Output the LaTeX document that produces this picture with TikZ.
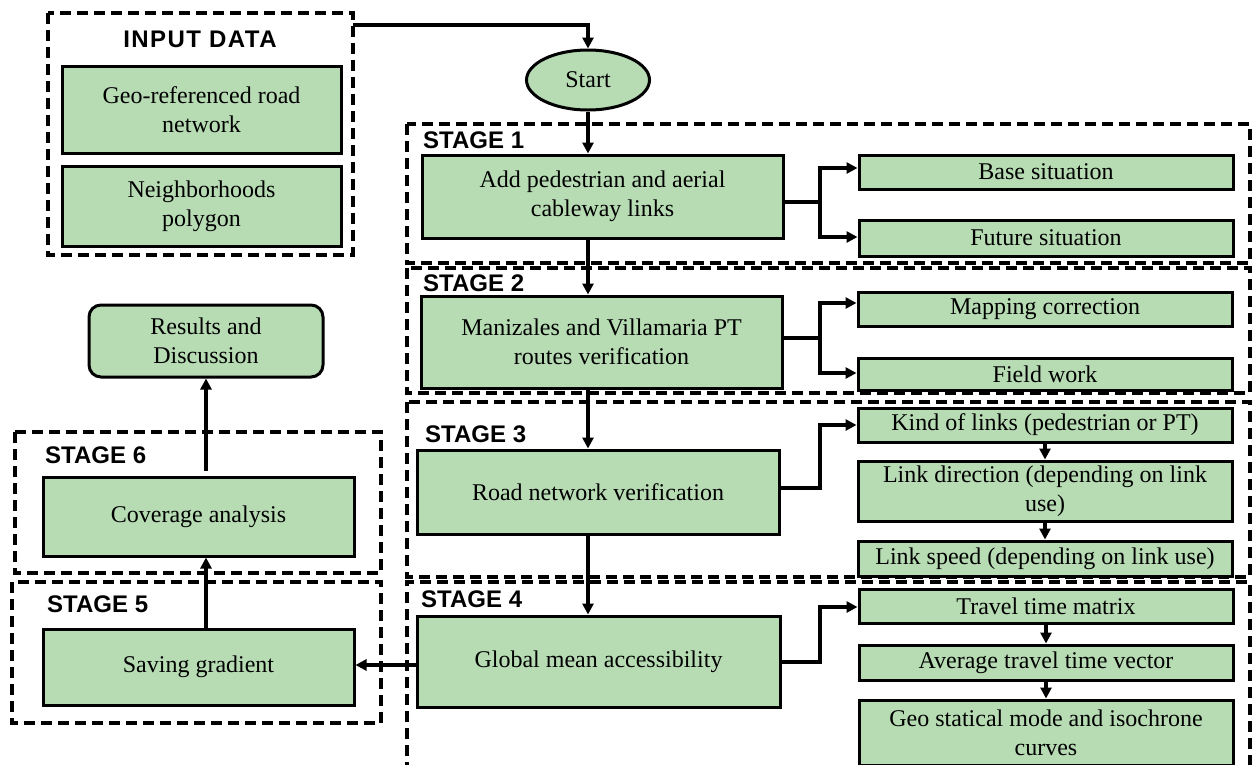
\documentclass[tikz,border=0pt]{standalone}
\usepackage{fontspec}
\setmainfont{Liberation Serif}
\setsansfont{Liberation Sans}
\newfontfamily\spacedsans[LetterSpace=6]{Liberation Sans}
\usepackage{xcolor}
\usepackage{tikz}
\usetikzlibrary{shapes.geometric, arrows.meta, positioning, calc}
\definecolor{stepgreen}{RGB}{183,220,180}

\begin{document}
\begin{tikzpicture}[
  x=1pt, y=-1pt,
  node distance=16pt and 20pt,
  box/.style={draw=black, fill=stepgreen, line width=3pt,
              inner sep=2pt, align=center,
              font=\fontsize{24}{29}\selectfont},
  subbox/.style={box, minimum width=374pt, minimum height=34pt},
  result/.style={box, rounded corners=12pt},
  stagebox/.style={draw=black, line width=3.2pt, dash pattern=on 11pt off 6pt},
  stagelabel/.style={anchor=base west, inner sep=0pt,
                     font=\sffamily\bfseries\fontsize{24}{28}\selectfont},
  arrow/.style={-{Triangle[length=11pt,width=11pt]}, line width=3.2pt},
]
\useasboundingbox (0,0) rectangle (1252,764);

%% Dashed stage frames
\draw[stagebox] (48,13)  rectangle (353,255);
\draw[stagebox] (407,124) rectangle (1250,263);
\draw[stagebox] (407,268) rectangle (1250,393);
\draw[stagebox] (407,402) rectangle (1250,577);
\draw[stagebox] (407,790) -- (407,582) -- (1250,582) -- (1250,790);
\draw[stagebox] (15,432) rectangle (381,573);
\draw[stagebox] (12,582) rectangle (381,723);
\coordinate (inpout) at (353,25);

\node[stagelabel, anchor=base, font=\spacedsans\bfseries\fontsize{24}{28}\selectfont]
  (lin) at (200,47) {INPUT DATA};
\node[stagelabel] (l1) at (423,148) {STAGE 1};
\node[stagelabel] (l2) at (423,291) {STAGE 2};
\node[stagelabel] (l3) at (425,442) {STAGE 3};
\node[stagelabel] (l4) at (421,607) {STAGE 4};
\node[stagelabel] (l5) at (47,612)  {STAGE 5};
\node[stagelabel] (l6) at (45,463)  {STAGE 6};

%% Input data
\node[box, minimum width=279pt, minimum height=87pt] (road) at (201.5,109.5)
  {Geo-referenced road\\network};
\node[box, minimum width=279pt, minimum height=80pt, below=10pt of road] (hood)
  {Neighborhoods\\polygon};

%% Main column
\node[box, ellipse, minimum width=123pt, minimum height=60pt, inner sep=0pt]
  (start) at (588,80) {Start};
\node[box, minimum width=361pt, minimum height=83pt] (s1) at (602.5,196.5)
  {Add pedestrian and aerial\\cableway links};
\node[box, minimum width=361pt, minimum height=92pt] (s2) at (601.5,342)
  {Manizales and Villamaria PT\\routes verification};
\node[box, minimum width=362pt, minimum height=84pt] (s3) at (598,492)
  {Road network verification};
\node[box, minimum width=363pt, minimum height=91pt] (s4) at (598.5,661.5)
  {Global mean accessibility};

%% Sub-steps on the right
\node[subbox] (base)   at (1046,172) {Base situation};
\node[subbox, minimum height=36pt, below=28pt of base] (future) {Future situation};
\node[subbox] (mapfix) at (1045,309) {Mapping correction};
\node[subbox, minimum height=32pt, below=29pt of mapfix] (field) {Field work};
\node[subbox] (kind)   at (1045,425) {Kind of links (pedestrian or PT)};
\node[subbox, minimum height=60pt, below=16pt of kind] (ldir)
  {Link direction (depending on link\\use)};
\node[subbox, minimum height=35pt, below=17pt of ldir] (lspeed)
  {Link speed (depending on link use)};
\node[subbox] (ttm)    at (1046,606) {Travel time matrix};
\node[subbox, minimum height=35pt, below=19pt of ttm] (ttv)
  {Average travel time vector};
\node[subbox, minimum height=65pt, below=17pt of ttv] (geo)
  {Geo statical mode and isochrone\\curves};

%% Left column
\node[box, minimum width=311pt, minimum height=76pt] (grad) at (198.5,667)
  {Saving gradient};
\node[box, minimum width=311pt, minimum height=79pt] (cover) at (198.5,516.5)
  {Coverage analysis};
\node[result, minimum width=234pt, minimum height=72pt] (results) at (206,341)
  {Results and\\Discussion};

%% Main flow
\draw[arrow] (inpout) -| (start.north);
\draw[arrow] (start) -- (start |- s1.north);
\draw[arrow] (s1.south -| start) -- (s2.north -| start);
\draw[arrow] (s2.south -| start) -- (s3.north -| start);
\draw[arrow] (s3.south -| start) -- (s4.north -| start);
\draw[arrow] (s4.west |- 0,665) -- (grad.east |- 0,665);
\draw[arrow] (grad.north -| results) -- (cover.south -| results);
\draw[arrow] ($(cover.north -| results)+(0,-5)$) -- (results);

%% Branches to sub-steps
\draw[arrow] (s1.east |- 0,202) -| (820,168) -- (base.west |- 0,168);
\draw[arrow] (s1.east |- 0,202) -| (820,237) -- (future.west |- 0,237);
\draw[arrow] (s2.east |- 0,338) -| (820,303) -- (mapfix.west |- 0,303);
\draw[arrow] (s2.east |- 0,338) -| (820,373) -- (field.west |- 0,373);
\draw[arrow] (s3.east |- 0,488) -| (820,425) -- (kind.west);
\draw[arrow] (s4.east |- 0,662) -| (820,607) -- (ttm.west |- 0,607);

%% Chains inside stages 3 and 4
\draw[arrow] (kind) -- (ldir);
\draw[arrow] (ldir) -- (lspeed);
\draw[arrow] (ttm)  -- (ttv);
\draw[arrow] (ttv)  -- (geo);

\end{tikzpicture}
\end{document}
